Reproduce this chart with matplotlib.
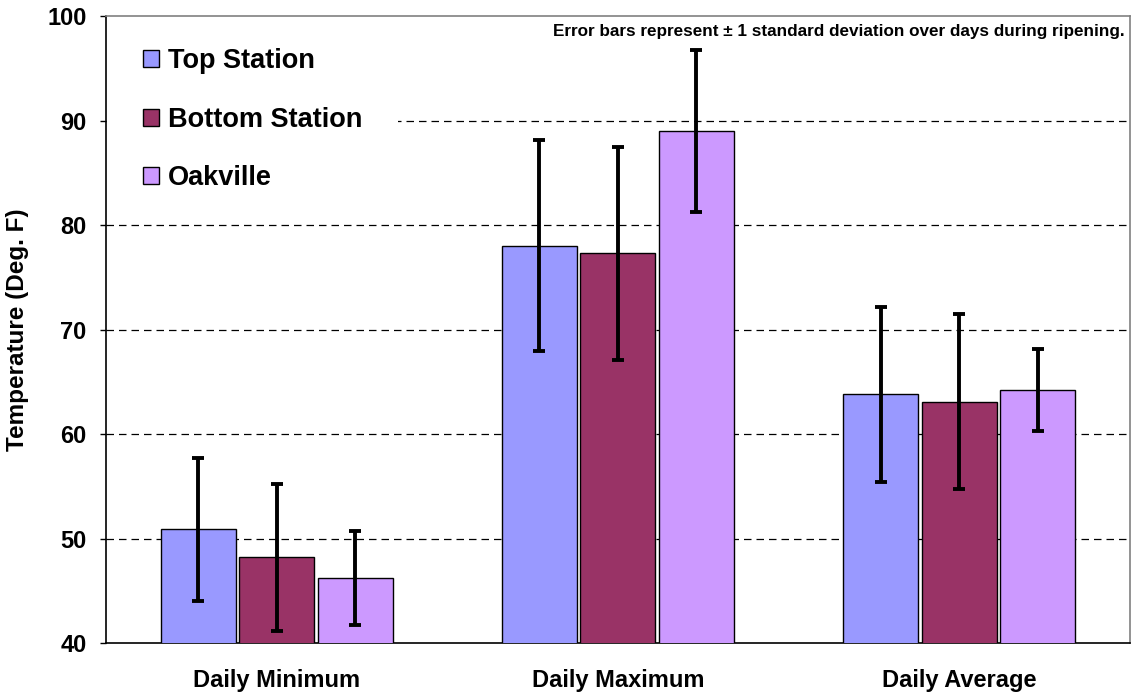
import numpy as np
import matplotlib.pyplot as plt
from matplotlib.patches import Rectangle

plt.rcParams['font.family'] = ['Liberation Sans', 'DejaVu Sans']
plt.rcParams['font.weight'] = 'bold'

categories = ["Daily Minimum", "Daily Maximum", "Daily Average"]
series = ["Top Station", "Bottom Station", "Oakville"]
colors = ["#9999FF", "#993366", "#CC99FF"]

top_mean = [50.9, 78.0, 63.8]
top_sd = [6.85, 10.1, 8.35]
bottom_mean = [48.2, 77.3, 63.1]
bottom_sd = [7.05, 10.2, 8.35]
oak_mean = [46.2, 89.0, 64.2]
oak_sd = [4.5, 7.75, 3.9]

means = [top_mean, bottom_mean, oak_mean]
sds = [top_sd, bottom_sd, oak_sd]

fig = plt.figure(figsize=(11.32, 6.96), dpi=100)
ax = fig.add_axes([0.0936, 0.0761, 0.9044, 0.9009])

x = np.arange(len(categories))
width = 0.22
offsets = [-0.23, 0.0, 0.23]

for i in range(3):
    ax.bar(x + offsets[i], means[i], width, color=colors[i], edgecolor='black',
           linewidth=1.0, label=series[i], zorder=3)
    ax.errorbar(x + offsets[i], means[i], yerr=sds[i], fmt='none', ecolor='black',
                elinewidth=2.8, capsize=4.3, capthick=2.8, zorder=4)

ax.set_xlim(-0.5, 2.5)
ax.set_ylim(40, 100)
ax.set_yticks(range(40, 101, 10))
ax.set_xticks(x)
ax.set_xticklabels(categories, fontsize=17, fontweight='bold')
ax.tick_params(axis='x', length=0, pad=19)
ax.tick_params(axis='y', labelsize=17, length=4, width=1, pad=10, direction='out')
for lab in ax.get_yticklabels():
    lab.set_fontweight('bold')

for v in [50, 60, 70, 80, 90]:
    ax.axhline(v, color='black', linestyle=(0, (6, 4)), linewidth=0.9, zorder=1)

# legend area blanks out the gridline behind it
ax.add_patch(Rectangle((0.001, 0.72), 0.284, 0.27, transform=ax.transAxes,
                       facecolor='white', edgecolor='none', zorder=1.5))

for s in ['left', 'bottom']:
    ax.spines[s].set_color('black')
    ax.spines[s].set_linewidth(1.2)
for s in ['top', 'right']:
    ax.spines[s].set_color('#808080')
    ax.spines[s].set_linewidth(1.2)

ax.set_ylabel("Temperature (Deg. F)", fontsize=17.5, fontweight='bold', labelpad=13)

leg = ax.legend(loc='upper left', bbox_to_anchor=(0.0137, 0.985), prop={'size': 19.5, 'weight': 'bold'},
                frameon=False, handlelength=0.6, handleheight=0.6, handletextpad=0.33,
                labelspacing=1.2, borderpad=0.35)
leg.set_zorder(5)
for h in leg.legend_handles:
    h.set_edgecolor('black')

ax.text(0.995, 0.988, "Error bars represent \u00b1 1 standard deviation over days during ripening.",
        transform=ax.transAxes, ha='right', va='top', fontsize=12.35, fontweight='bold', zorder=6)

fig.savefig("out.png", dpi=100)
